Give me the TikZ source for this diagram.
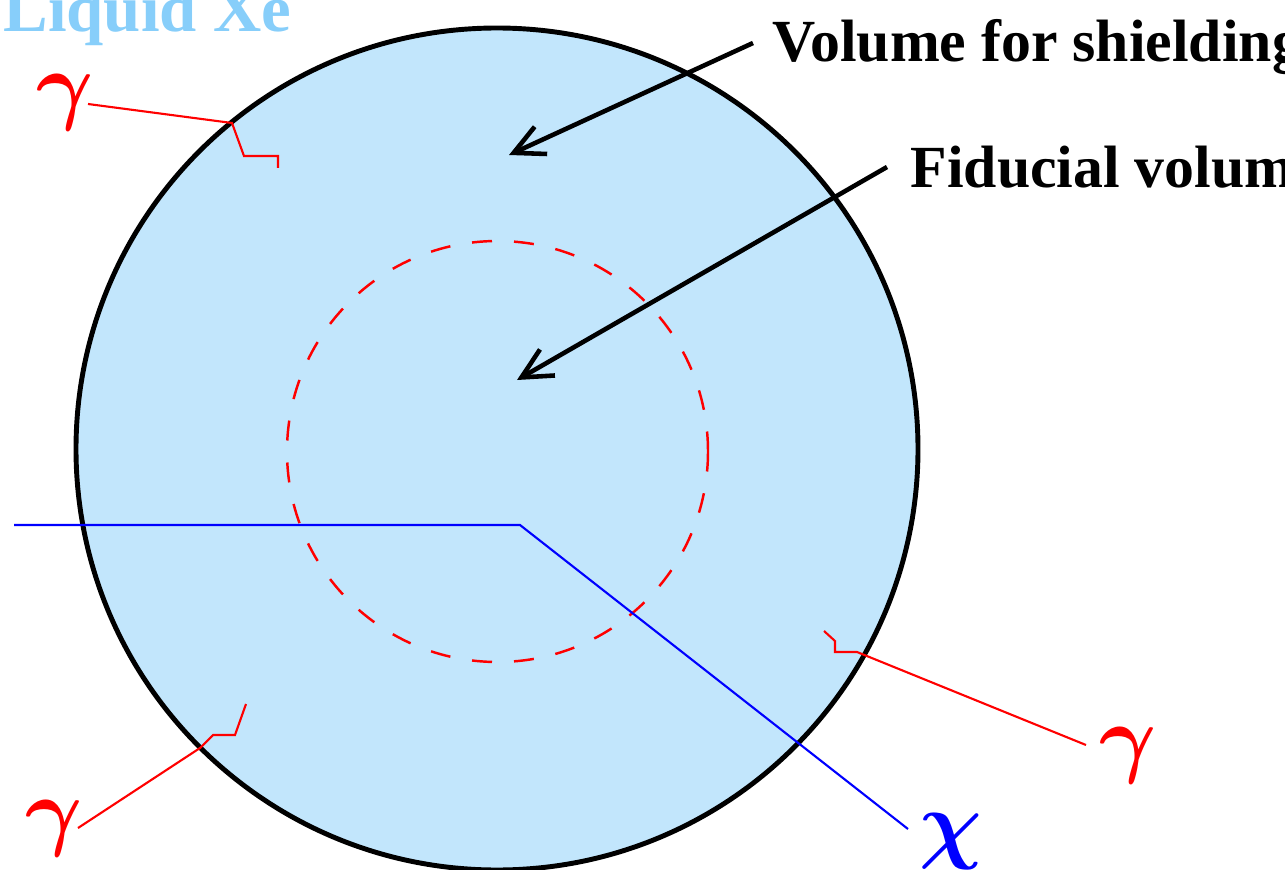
\documentclass[tikz,border=0pt]{standalone}
\usepackage{fontspec}
\setmainfont{Liberation Serif}
\usetikzlibrary{arrows.meta,calc}
\definecolor{xeFill}{HTML}{C2E6FC}
\definecolor{xeText}{HTML}{87CEFA}
\definecolor{gamRed}{HTML}{FF0000}
\definecolor{chiBlue}{HTML}{0000FF}

\begin{document}
\begin{tikzpicture}[
    x=0.01cm, y=-0.01cm,
    >={Straight Barb[length=3mm,width=3mm]},
    vessel/.style={draw=black, fill=xeFill, line width=1.4pt},
    fiducial/.style={draw=gamRed, line width=0.7pt, dash pattern=on 0.2cm off 0.22cm},
    ptr/.style={->, draw=black, line width=1.3pt},
    gline/.style={draw=gamRed, line width=0.6pt},
    cline/.style={draw=chiBlue, line width=0.6pt},
    tag/.style={font=\fontsize{17}{20}\selectfont\bfseries, inner sep=0pt},
    greek/.style={font=\fontsize{28}{32}\selectfont\boldmath, inner sep=0pt},
  ]
\useasboundingbox (0,0) rectangle (1285,870);
\clip (0,0) rectangle (1285,870);

% ===== Detector volumes =====
\coordinate (ctr) at (497,449);
\coordinate (fidCtr) at (497.5,451.5);
\draw[vessel] (ctr) circle [radius=421];
\draw[fiducial] (fidCtr) circle [radius=210.5];

% ===== Labels =====
\node[anchor=base west, inner sep=0pt, text=xeText,
  font=\fontsize{19}{22}\selectfont\bfseries] (lxe) at (3,32) {Liquid Xe};
\node[tag, anchor=base west] (volShield) at (772,62) {Volume for shielding};
\node[tag, anchor=base west] (volFid) at (910,188) {Fiducial volume};

\node[greek, text=gamRed] (gamTL) at (65,103) {$\gamma$};
\node[greek, text=gamRed] (gamBL) at (54,829) {$\gamma$};
\node[greek, text=gamRed] (gamBR) at (1128,756) {$\gamma$};
\node[greek, text=chiBlue] (chi) at (951,842) {$\chi$};

% ===== WIMP track =====
\coordinate (chiIn) at (14,525);
\coordinate (chiHit) at (520,525);
\coordinate (chiOut) at (908,829);
\draw[cline] (chiIn) -- (chiHit) -- (chiOut);

% ===== Gamma tracks =====
\coordinate (tlEnd) at (88,104);
\coordinate (tlHit) at (232,123);
\draw[gline] (tlEnd) -- (tlHit) -- ++(12,33) -- ++(34,0) -- ++(0,12);

\coordinate (blEnd) at (78,828);
\coordinate (blHit) at (200,748);
\draw[gline] (blEnd) -- (blHit) -- ++(13,-13) -- ++(22,0) -- ++(11,-31);

\coordinate (brEnd) at (1086,745);
\coordinate (brHit) at (857,652);
\draw[gline] (brEnd) -- (brHit) -- ++(-22,0) -- ++(0,-11) -- ++(-11,-10);

% ===== Arrows =====
\coordinate (shieldTip) at (509,155);
\coordinate (fidTip) at (517,380);
\draw[ptr] ($(volShield.base west)+(-19,-19)$) -- (shieldTip);
\draw[ptr] ($(volFid.base west)+(-23,-21)$) -- (fidTip);

\end{tikzpicture}
\end{document}
